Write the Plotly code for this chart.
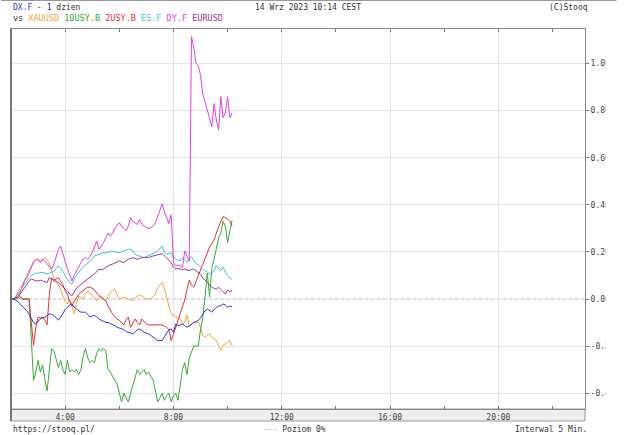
import pandas as pd
import plotly.graph_objects as go

# ---- data (5-minute closes, % change vs. session start) ----
start_time = "2023-09-14 02:00"
interval = "5min"

dx_f = [0.0, 0.0, -0.005, -0.01, -0.02, -0.03, -0.04, -0.05, -0.065, -0.085,
        -0.10, -0.106, -0.095, -0.085, -0.08, -0.077, -0.07, -0.063, -0.065, -0.07,
        -0.08, -0.09, -0.077, -0.06, -0.045, -0.035, -0.025, -0.02, -0.035, -0.042,
        -0.05, -0.056, -0.056, -0.056, -0.065, -0.077, -0.072, -0.07, -0.075, -0.085,
        -0.09, -0.095, -0.099, -0.10, -0.104, -0.106, -0.113, -0.12, -0.123, -0.127,
        -0.13, -0.138, -0.141, -0.145, -0.148, -0.141, -0.13, -0.127, -0.135, -0.141,
        -0.145, -0.148, -0.155, -0.162, -0.17, -0.176, -0.176, -0.176, -0.16, -0.145,
        -0.13, -0.127, -0.141, -0.106, -0.113, -0.11, -0.106, -0.113, -0.12, -0.115,
        -0.106, -0.10, -0.095, -0.092, -0.08, -0.063, -0.05, -0.042, -0.05, -0.056,
        -0.045, -0.035, -0.03, -0.028, -0.021, -0.025, -0.035, -0.03, -0.032]

xauusd = [0.0, 0.0, 0.01, 0.03, 0.05, 0.06, 0.08, 0.10, 0.12, 0.14,
          0.16, 0.17, 0.165, 0.155, 0.165, 0.176, 0.165, 0.148, 0.12, 0.09,
          0.075, 0.063, 0.04, 0.014, -0.01, -0.021, 0.0, -0.03, -0.063, -0.02,
          0.014, 0.005, 0.0, 0.02, 0.035, 0.025, 0.014, 0.0, -0.007, 0.005,
          0.014, 0.0, -0.007, 0.01, 0.028, 0.035, 0.042, 0.02, 0.0, 0.005,
          0.007, 0.003, 0.0, -0.004, -0.007, 0.005, 0.014, 0.014, 0.014, 0.005,
          0.0, 0.0, 0.0, 0.01, 0.021, 0.049, 0.06, 0.07, 0.045, 0.0,
          -0.03, -0.063, -0.07, -0.075, -0.08, -0.085, -0.106, -0.10, -0.068, -0.115,
          -0.105, -0.10, -0.10, -0.10, -0.12, -0.155, -0.162, -0.155, -0.148, -0.162,
          -0.17, -0.176, -0.20, -0.218, -0.197, -0.19, -0.18, -0.176, -0.197]

us10y = [0.0, 0.0, 0.01, 0.02, 0.01, 0.0, 0.0, 0.0, 0.0, -0.17,
         -0.345, -0.31, -0.26, -0.31, -0.28, -0.34, -0.39, -0.30, -0.21, -0.22,
         -0.25, -0.29, -0.26, -0.30, -0.32, -0.26, -0.31, -0.30, -0.31, -0.30,
         -0.32, -0.30, -0.24, -0.21, -0.25, -0.27, -0.26, -0.27, -0.23, -0.21,
         -0.22, -0.21, -0.22, -0.30, -0.31, -0.33, -0.345, -0.36, -0.40, -0.437,
         -0.40, -0.42, -0.437, -0.40, -0.37, -0.34, -0.30, -0.32, -0.31, -0.30,
         -0.32, -0.31, -0.33, -0.345, -0.39, -0.437, -0.42, -0.40, -0.43, -0.41,
         -0.40, -0.437, -0.41, -0.40, -0.43, -0.357, -0.30, -0.27, -0.32, -0.25,
         -0.22, -0.20, -0.20, -0.20, -0.13, -0.08, 0.01, 0.11, 0.01, 0.13,
         0.17, 0.22, 0.26, 0.28, 0.33, 0.31, 0.24, 0.29, 0.335]

us2y = [0.0, 0.0, 0.0, 0.005, 0.01, 0.0, 0.0, 0.0, 0.0, -0.10,
        -0.197, -0.12, -0.077, -0.08, -0.077, -0.09, -0.11, 0.02, 0.09, 0.08,
        0.085, 0.09, 0.075, 0.06, 0.035, 0.02, -0.01, -0.03, -0.01, 0.007,
        0.02, 0.03, 0.035, 0.045, 0.05, 0.05, 0.045, 0.04, 0.025, 0.014,
        0.005, 0.0, -0.007, -0.03, -0.05, -0.063, -0.075, -0.085, -0.09, -0.10,
        -0.11, -0.09, -0.077, -0.12, -0.10, -0.085, -0.10, -0.11, -0.085, -0.095,
        -0.106, -0.11, -0.11, -0.11, -0.11, -0.11, -0.11, -0.11, -0.115, -0.12,
        -0.13, -0.176, -0.15, -0.12, -0.09, -0.068, -0.04, -0.004, 0.04, 0.08,
        0.06, 0.05, 0.075, 0.10, 0.12, 0.145, 0.17, 0.20, 0.22, 0.235,
        0.25, 0.28, 0.31, 0.33, 0.35, 0.345, 0.34, 0.33, 0.31]

es_f = [0.0, 0.0, 0.01, 0.02, 0.035, 0.05, 0.065, 0.077, 0.09, 0.10,
        0.106, 0.11, 0.11, 0.113, 0.113, 0.11, 0.106, 0.11, 0.113, 0.118,
        0.13, 0.141, 0.13, 0.113, 0.10, 0.085, 0.07, 0.063, 0.085, 0.10,
        0.113, 0.125, 0.135, 0.145, 0.155, 0.162, 0.17, 0.183, 0.186, 0.19,
        0.193, 0.197, 0.195, 0.197, 0.20, 0.204, 0.20, 0.197, 0.197, 0.20,
        0.204, 0.207, 0.211, 0.211, 0.205, 0.19, 0.185, 0.183, 0.178, 0.176,
        0.18, 0.183, 0.186, 0.19, 0.197, 0.204, 0.215, 0.225, 0.197, 0.19,
        0.193, 0.197, 0.18, 0.169, 0.165, 0.162, 0.176, 0.165, 0.155, 0.17,
        0.18, 0.165, 0.15, 0.145, 0.134, 0.127, 0.12, 0.115, 0.106, 0.11,
        0.12, 0.141, 0.13, 0.12, 0.134, 0.115, 0.099, 0.088, 0.085]

dy_f = [0.0, 0.0, 0.005, 0.01, 0.028, 0.05, 0.077, 0.09, 0.11, 0.135,
        0.155, 0.165, 0.17, 0.155, 0.17, 0.16, 0.148, 0.135, 0.127, 0.148,
        0.18, 0.21, 0.225, 0.197, 0.16, 0.13, 0.106, 0.077, 0.10, 0.12,
        0.14, 0.155, 0.17, 0.176, 0.169, 0.18, 0.197, 0.22, 0.246, 0.211,
        0.225, 0.239, 0.26, 0.28, 0.267, 0.28, 0.30, 0.31, 0.324, 0.31,
        0.30, 0.289, 0.31, 0.345, 0.33, 0.324, 0.317, 0.338, 0.317, 0.31,
        0.303, 0.30, 0.303, 0.31, 0.324, 0.35, 0.38, 0.404, 0.37, 0.345,
        0.32, 0.357, 0.155, 0.14, 0.145, 0.141, 0.134, 0.204, 0.18, 0.16,
        1.114, 1.07, 1.0, 0.99, 0.95, 0.87, 0.838, 0.80, 0.774, 0.732,
        0.83, 0.76, 0.718, 0.859, 0.77, 0.79, 0.859, 0.77, 0.79]

eurusd = [0.0, 0.0, 0.005, 0.01, 0.021, 0.035, 0.05, 0.063, 0.075, 0.085,
          0.08, 0.077, 0.077, 0.08, 0.077, 0.072, 0.07, 0.092, 0.085, 0.077,
          0.075, 0.07, 0.06, 0.049, 0.042, 0.035, 0.02, 0.014, 0.03, 0.045,
          0.055, 0.063, 0.072, 0.077, 0.085, 0.092, 0.10, 0.106, 0.115, 0.127,
          0.125, 0.127, 0.135, 0.141, 0.145, 0.148, 0.152, 0.158, 0.162, 0.158,
          0.155, 0.162, 0.169, 0.172, 0.176, 0.172, 0.169, 0.172, 0.176, 0.176,
          0.176, 0.176, 0.18, 0.183, 0.185, 0.187, 0.19, 0.193, 0.183, 0.175,
          0.165, 0.155, 0.135, 0.127, 0.13, 0.127, 0.125, 0.127, 0.123, 0.12,
          0.125, 0.127, 0.12, 0.113, 0.105, 0.09, 0.08, 0.07, 0.063, 0.05,
          0.045, 0.042, 0.05, 0.04, 0.03, 0.021, 0.038, 0.032, 0.035]

series_names = ["XAUUSD", "10USY.B", "2USY.B", "ES.F", "DY.F", "EURUSD", "DX.F"]
series_values = [xauusd, us10y, us2y, es_f, dy_f, eurusd, dx_f]
series_colors = ["#f0a43c", "#3aa83a", "#e03434", "#44bfe0", "#dc46dc", "#9a3a8e", "#3838c8"]

y_tick_vals = [-0.4, -0.2, 0.0, 0.2, 0.4, 0.6, 0.8, 1.0]
y_tick_text = ["-0.40", "-0.20", "0.00", "0.20", "0.40", "0.60", "0.80", "1.00"]

title_main = "DX.F"
title_rest = " - 1 dzien"
date_text = "14 Wrz 2023 10:14 CEST"
copyright_text = "(C)Stooq"
footer_left = "https://stooq.pl/"
footer_mid = "Poziom 0%"
footer_right = "Interwal 5 Min."

times = pd.date_range(start_time, periods=len(dx_f), freq=interval)

# ---- geometry helpers (pixel -> paper) ----
W, H = 625, 435
ML, MR, MT, MB = 10, 32, 29, 26
PW, PH = W - ML - MR, H - MT - MB


def px(x):
    return (x - ML) / PW


def py(y):
    return 1 - (y - MT) / PH


FONT = "DejaVu Sans Mono"

fig = go.Figure()
for name, vals, col in zip(series_names, series_values, series_colors):
    fig.add_trace(go.Scatter(x=times, y=vals, mode="lines", name=name,
                             line=dict(color=col, width=1), showlegend=False))

fig.update_layout(
    width=W, height=H,
    margin=dict(l=ML, r=MR, t=MT, b=MB, pad=0),
    paper_bgcolor="white", plot_bgcolor="white",
    font=dict(family=FONT, size=8, color="#333333"),
    showlegend=False,
)

fig.update_xaxes(
    type="date",
    range=["2023-09-14 02:00", "2023-09-14 23:12"],
    tick0="2023-09-14 00:00", dtick=4 * 3600 * 1000,
    tickformat="%-H:%M",
    showgrid=True, gridcolor="#e4e4e4", gridwidth=1,
    ticks="inside", ticklen=3, tickcolor="#777777",
    minor=dict(dtick=2 * 3600 * 1000, tick0="2023-09-14 00:00", ticks="inside",
               ticklen=3, tickcolor="#777777", showgrid=False),
    showline=True, linecolor="#888888", linewidth=1, mirror="ticks",
    tickfont=dict(family=FONT, size=8, color="#444444"),
    zeroline=False,
)

fig.update_yaxes(
    range=[-0.467, 1.1465],
    side="right",
    tickvals=y_tick_vals, ticktext=y_tick_text,
    showgrid=True, gridcolor="#e4e4e4", gridwidth=1,
    ticks="outside", ticklen=3, tickcolor="#777777",
    showline=True, linecolor="#888888", linewidth=1, mirror=True,
    tickfont=dict(family=FONT, size=8, color="#444444"),
    zeroline=False,
)

shapes = [
    # zero level dashed
    dict(type="line", xref="paper", yref="y", x0=0, x1=1, y0=0, y1=0,
         line=dict(color="#aaaaaa", width=1, dash="3px,3px"), layer="below"),
    # time-axis band
    dict(type="rect", xref="paper", yref="paper", x0=0, x1=1, y0=py(421), y1=0,
         fillcolor="#eeeeee", line=dict(color="#999999", width=1), layer="below"),
    # thick left edge
    dict(type="line", xref="paper", yref="paper", x0=px(10), x1=px(10), y0=py(421), y1=1,
         line=dict(color="#777777", width=2)),
    # window frame top
    dict(type="line", xref="paper", yref="paper", x0=px(0), x1=px(625), y0=py(0.5), y1=py(0.5),
         line=dict(color="#9a9a9a", width=1)),
    # right clip of the value labels
    dict(type="rect", xref="paper", yref="paper", x0=px(614), x1=px(640), y0=py(425), y1=py(25),
         fillcolor="white", line=dict(width=0), layer="above"),
]
fig.update_layout(shapes=shapes)

legend_line = "vs " + " ".join(
    f"<span style='color:{c}'>{n}</span>" for n, c in zip(series_names[:-1], series_colors[:-1])
)

annotations = [
    dict(text=f"<span style='color:{series_colors[-1]}'>{title_main}</span>{title_rest}",
         x=px(10), y=py(8), xanchor="left", yanchor="middle", size=8),
    dict(text=legend_line, x=px(10), y=py(18.5), xanchor="left", yanchor="middle", size=8.5),
    dict(text=date_text, x=px(312), y=py(8), xanchor="center", yanchor="middle", size=8),
    dict(text=copyright_text, x=px(598), y=py(8), xanchor="right", yanchor="middle", size=8),
    dict(text=footer_left, x=px(10), y=py(429), xanchor="left", yanchor="middle", size=8),
    dict(text=f"<span style='color:#aaaaaa'>---</span> {footer_mid}", x=px(264), y=py(429),
         xanchor="left", yanchor="middle", size=8),
    dict(text=footer_right, x=px(597), y=py(429), xanchor="right", yanchor="middle", size=8),
]
for a in annotations:
    s = a.pop("size")
    a.update(xref="paper", yref="paper", showarrow=False,
             font=dict(family=FONT, size=s, color="#333333"))
fig.update_layout(annotations=annotations)

fig.write_html("out.html",
               config={"displayModeBar": False, "staticPlot": True},
               post_script="document.body.style.margin='0';document.body.style.padding='0';")
